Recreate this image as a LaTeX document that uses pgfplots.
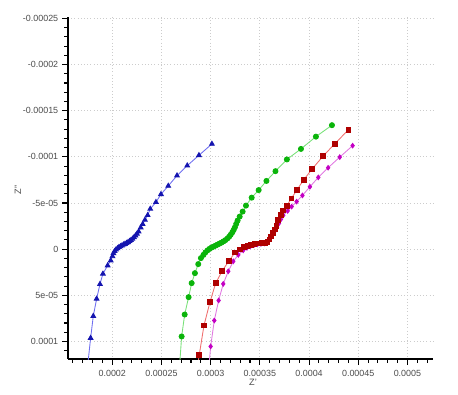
\documentclass[border=0pt]{standalone}
\usepackage{pgfplots}
\pgfplotsset{compat=1.18}
\usepackage{fontspec}
\setmainfont{Liberation Sans}
\definecolor{bluemk}{RGB}{20,20,175}
\definecolor{blueln}{RGB}{110,110,240}
\definecolor{greenmk}{RGB}{10,180,10}
\definecolor{greenln}{RGB}{120,225,120}
\definecolor{redmk}{RGB}{175,0,0}
\definecolor{redln}{RGB}{240,110,110}
\definecolor{magmk}{RGB}{195,0,195}
\definecolor{magln}{RGB}{225,120,225}
\begin{document}
\begin{tikzpicture}
\useasboundingbox (-51pt,-26.25pt) rectangle (292.5pt,269.25pt);
\begin{axis}[
  at={(0pt,0pt)}, anchor=south west,
  scale only axis, width=273.75pt, height=256.5pt,
  xmin=15.5e-5, xmax=52.6e-5, ymin=-25.15e-5, ymax=11.9e-5,
  y dir=reverse,
  axis x line*=bottom, axis y line*=left,
  axis line style={line width=1.4pt, -},
  tick align=outside,
  major tick length=4.3pt, minor tick length=2.8pt,
  every tick/.style={black, line width=0.8pt},
  scaled ticks=false,
  xtick={20e-5,25e-5,30e-5,35e-5,40e-5,45e-5,50e-5},
  xticklabels={0.0002,0.00025,0.0003,0.00035,0.0004,0.00045,0.0005},
  ytick={-25e-5,-20e-5,-15e-5,-10e-5,-5e-5,0,5e-5,10e-5},
  yticklabels={-0.00025,-0.0002,-0.00015,-0.0001,-5e-05,0,5e-05,0.0001},
  minor xtick={16e-5,17e-5,18e-5,19e-5,21e-5,22e-5,23e-5,24e-5,26e-5,27e-5,28e-5,29e-5,31e-5,32e-5,33e-5,34e-5,36e-5,37e-5,38e-5,39e-5,41e-5,42e-5,43e-5,44e-5,46e-5,47e-5,48e-5,49e-5,51e-5,52e-5},
  minor ytick={-24e-5,-23e-5,-22e-5,-21e-5,-19e-5,-18e-5,-17e-5,-16e-5,-14e-5,-13e-5,-12e-5,-11e-5,-9e-5,-8e-5,-7e-5,-6e-5,-4e-5,-3e-5,-2e-5,-1e-5,1e-5,2e-5,3e-5,4e-5,6e-5,7e-5,8e-5,9e-5,11e-5},
  grid=major,
  major grid style={dotted, black!20, line width=0.6pt},
  ticklabel style={font=\fontsize{6.7}{7.5}\selectfont, text=black!70},
  xticklabel style={yshift=-0.5pt},
  yticklabel style={xshift=0.5pt},
  xlabel={Z'}, ylabel={Z''},
  label style={font=\fontsize{6.9}{7.5}\selectfont, text=black!70},
  xlabel style={at={(axis description cs:0.507,-0.069)}, anchor=center},
  ylabel style={at={(axis description cs:-0.137,0.495)}, anchor=center},
  clip=true,
]
% blue
\addplot[color=blueln, line width=0.65pt, mark=triangle*, mark size=2.0pt,
  mark options={fill=bluemk, draw=bluemk}] coordinates {
(17.43e-5,13.28e-5)(17.80e-5,9.63e-5)(18.07e-5,7.25e-5)(18.41e-5,5.38e-5)(18.75e-5,3.79e-5)
(19.05e-5,2.67e-5)(19.53e-5,1.77e-5)(19.84e-5,1.23e-5)(20.02e-5,0.78e-5)(20.12e-5,0.45e-5)
(20.24e-5,0.22e-5)(20.38e-5,0.05e-5)(20.53e-5,-0.09e-5)(20.68e-5,-0.21e-5)(20.83e-5,-0.30e-5)
(20.99e-5,-0.39e-5)(21.14e-5,-0.48e-5)(21.29e-5,-0.56e-5)(21.44e-5,-0.65e-5)(21.60e-5,-0.75e-5)
(21.75e-5,-0.86e-5)(21.90e-5,-0.97e-5)(22.05e-5,-1.11e-5)(22.21e-5,-1.28e-5)(22.36e-5,-1.46e-5)
(22.51e-5,-1.66e-5)(22.68e-5,-1.90e-5)(22.89e-5,-2.34e-5)(23.09e-5,-2.71e-5)(23.32e-5,-3.17e-5)
(23.60e-5,-3.68e-5)(23.86e-5,-4.36e-5)(24.44e-5,-5.09e-5)(24.95e-5,-5.95e-5)(25.69e-5,-6.85e-5)
(26.58e-5,-7.97e-5)(27.62e-5,-9.05e-5)(28.81e-5,-10.17e-5)(30.13e-5,-11.40e-5)
};
% green
\addplot[color=greenln, line width=0.65pt, mark=*, mark size=1.9pt,
  mark options={fill=greenmk, draw=greenmk}] coordinates {
(26.80e-5,13.28e-5)(27.05e-5,9.46e-5)(27.36e-5,7.08e-5)(27.76e-5,5.20e-5)(28.07e-5,3.68e-5)
(28.40e-5,2.60e-5)(28.74e-5,1.62e-5)(29.01e-5,0.97e-5)(29.27e-5,0.62e-5)(29.47e-5,0.35e-5)
(29.68e-5,0.13e-5)(29.88e-5,-0.03e-5)(30.08e-5,-0.16e-5)(30.28e-5,-0.27e-5)(30.49e-5,-0.38e-5)
(30.69e-5,-0.49e-5)(30.89e-5,-0.60e-5)(31.10e-5,-0.71e-5)(31.30e-5,-0.84e-5)(31.50e-5,-0.98e-5)
(31.71e-5,-1.16e-5)(31.88e-5,-1.35e-5)(32.04e-5,-1.57e-5)(32.20e-5,-1.82e-5)(32.34e-5,-2.09e-5)
(32.47e-5,-2.38e-5)(32.60e-5,-2.74e-5)(32.74e-5,-3.10e-5)(32.95e-5,-3.53e-5)(33.25e-5,-4.07e-5)
(33.59e-5,-4.72e-5)(34.17e-5,-5.58e-5)(34.88e-5,-6.40e-5)(35.67e-5,-7.39e-5)(36.59e-5,-8.45e-5)
(37.75e-5,-9.72e-5)(39.18e-5,-10.86e-5)(40.70e-5,-12.19e-5)(42.33e-5,-13.43e-5)
};
% magenta
\addplot[color=magln, line width=0.65pt, mark=diamond*, mark size=1.7pt,
  mark options={fill=magmk, draw=magmk}] coordinates {
(29.78e-5,13.28e-5)(30.00e-5,10.54e-5)(30.37e-5,7.73e-5)(30.81e-5,5.56e-5)(31.28e-5,3.76e-5)
(31.79e-5,2.40e-5)(32.30e-5,1.32e-5)(32.81e-5,0.62e-5)(33.31e-5,0.13e-5)(33.69e-5,-0.14e-5)
(34.05e-5,-0.32e-5)(34.40e-5,-0.44e-5)(34.76e-5,-0.52e-5)(35.11e-5,-0.57e-5)(35.47e-5,-0.62e-5)
(35.72e-5,-0.74e-5)(35.93e-5,-0.97e-5)(36.13e-5,-1.28e-5)(36.33e-5,-1.63e-5)(36.54e-5,-1.98e-5)
(36.74e-5,-2.36e-5)(36.94e-5,-2.79e-5)(37.14e-5,-3.23e-5)(37.38e-5,-3.66e-5)(37.83e-5,-4.15e-5)
(38.23e-5,-4.61e-5)(38.74e-5,-5.15e-5)(39.33e-5,-5.82e-5)(40.09e-5,-6.76e-5)(40.94e-5,-7.77e-5)
(41.94e-5,-8.82e-5)(43.12e-5,-9.97e-5)(44.43e-5,-11.21e-5)
};
% red
\addplot[color=redln, line width=0.65pt, mark=square*, mark size=1.75pt,
  mark options={fill=redmk, draw=redmk}] coordinates {
(28.57e-5,13.28e-5)(28.84e-5,11.47e-5)(29.32e-5,8.27e-5)(29.93e-5,5.74e-5)(30.51e-5,3.68e-5)
(31.18e-5,2.35e-5)(31.86e-5,1.27e-5)(32.47e-5,0.37e-5)(32.98e-5,0.02e-5)(33.38e-5,-0.22e-5)
(33.74e-5,-0.36e-5)(34.10e-5,-0.47e-5)(34.45e-5,-0.55e-5)(34.81e-5,-0.61e-5)(35.16e-5,-0.64e-5)
(35.52e-5,-0.66e-5)(35.77e-5,-0.79e-5)(35.98e-5,-1.06e-5)(36.16e-5,-1.39e-5)(36.33e-5,-1.76e-5)
(36.50e-5,-2.14e-5)(36.67e-5,-2.52e-5)(36.87e-5,-3.17e-5)(37.14e-5,-3.71e-5)(37.38e-5,-4.18e-5)
(37.72e-5,-4.69e-5)(38.21e-5,-5.50e-5)(38.77e-5,-6.42e-5)(39.45e-5,-7.50e-5)(40.32e-5,-8.69e-5)
(41.43e-5,-10.08e-5)(42.63e-5,-11.43e-5)(44.00e-5,-12.93e-5)
};
\end{axis}
\end{tikzpicture}
\end{document}
